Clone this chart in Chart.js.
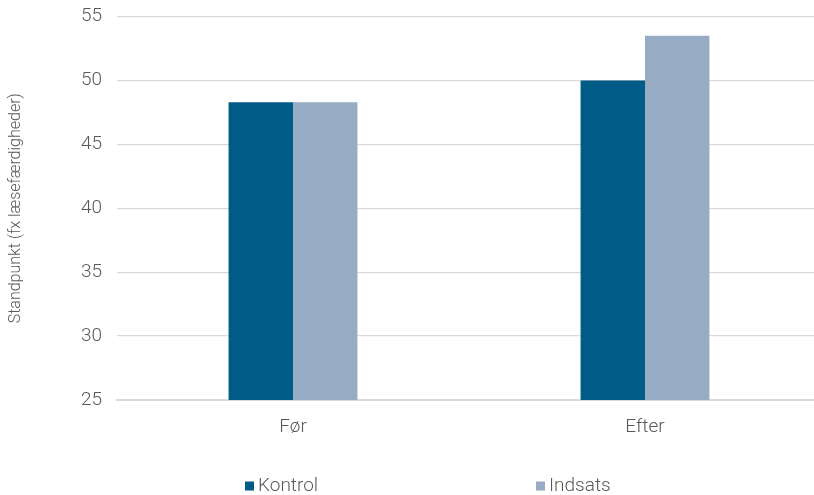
<!DOCTYPE html>
<html lang="da">
<head>
<meta charset="utf-8">
<title>Standpunkt før og efter</title>
<script src="https://cdn.jsdelivr.net/npm/chart.js@4"></script>
<style>
  html, body { margin: 0; padding: 0; background: #fff; overflow: hidden; }
  #wrap { width: 821px; height: 495px; position: relative; }
</style>
</head>
<body>
<div id="wrap"><canvas id="chart"></canvas></div>
<script>
const categories = ['Før', 'Efter'];
const kontrol = [48.3, 50.0];
const indsats = [48.3, 53.5];
const seriesNames = ['Kontrol', 'Indsats'];
const yTicks = [25, 30, 35, 40, 45, 50, 55];

const colors = ['#005c87', '#97acc4'];
const textColor = '#595959';
const gridColor = '#d9d9d9';
const fontFamily = 'Roboto, "Noto Sans", sans-serif';

// bottom legend with items spread apart, like the original spreadsheet chart
const spreadLegend = {
  id: 'spreadLegend',
  afterDraw(chart) {
    const ctx = chart.ctx;
    const xs = [245, 536];
    const y = 486;
    ctx.save();
    ctx.font = '300 19px ' + fontFamily;
    ctx.textBaseline = 'middle';
    ctx.textAlign = 'left';
    chart.data.datasets.forEach((ds, i) => {
      ctx.fillStyle = ds.backgroundColor;
      ctx.fillRect(xs[i], y - 4.5, 9, 9);
      ctx.fillStyle = textColor;
      ctx.fillText(ds.label, xs[i] + 13, y);
    });
    ctx.restore();
  }
};

new Chart(document.getElementById('chart'), {
  type: 'bar',
  data: {
    labels: categories,
    datasets: [
      { label: seriesNames[0], data: kontrol, backgroundColor: colors[0] },
      { label: seriesNames[1], data: indsats, backgroundColor: colors[1] }
    ]
  },
  options: {
    responsive: true,
    maintainAspectRatio: false,
    animation: false,
    layout: { padding: { top: 16.5, right: 0, bottom: 0, left: 0 } },
    datasets: {
      bar: { categoryPercentage: 0.366, barPercentage: 1.0 }
    },
    plugins: {
      legend: { display: false },
      tooltip: { enabled: false }
    },
    scales: {
      x: {
        grid: { display: false },
        border: { display: true, color: gridColor, width: 2 },
        ticks: { color: textColor, font: { family: fontFamily, size: 19, weight: 300 }, padding: 8 },
        afterFit(scale) { scale.height = 95; }
      },
      y: {
        min: 25,
        max: 55,
        afterBuildTicks(scale) { scale.ticks = yTicks.map(v => ({ value: v })); },
        grid: { color: gridColor, drawTicks: false, lineWidth: 1.3 },
        border: { display: false },
        ticks: { color: textColor, font: { family: fontFamily, size: 19, weight: 300 }, padding: 15 },
        title: {
          display: true,
          text: 'Standpunkt (fx læsefærdigheder)',
          color: textColor,
          font: { family: fontFamily, size: 16, weight: 300 },
          padding: { top: 6, bottom: 0 }
        },
        afterFit(scale) {
          scale.width = 117;
          scale.paddingTop = 0;
          scale.paddingBottom = 0;
        }
      }
    }
  },
  plugins: [spreadLegend]
});
</script>
</body>
</html>
